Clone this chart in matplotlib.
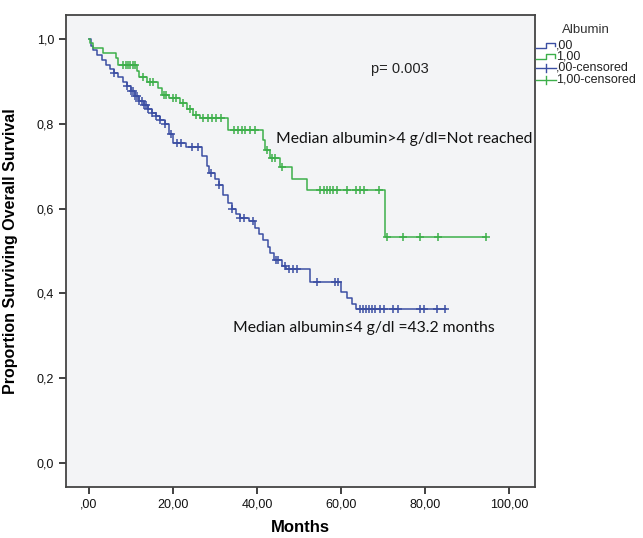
import numpy as np
import matplotlib.pyplot as plt
from matplotlib.lines import Line2D

# Kaplan-Meier steps (months, survival after the drop)
blue_t = [0, 0.5, 1, 2, 3, 4, 5, 6, 7, 8, 9, 10, 11, 12, 13, 14, 15, 16, 17, 18,
          19, 20, 23, 27, 28, 28.5, 30, 31, 32, 33, 34, 35, 36, 38, 39.5, 40.5,
          41.5, 42.5, 43.2, 44, 46, 47, 52.5, 60, 61.5, 62.5, 63.5]
blue_s = [1.0, 0.985, 0.975, 0.962, 0.95, 0.94, 0.93, 0.92, 0.91, 0.90, 0.89,
          0.877, 0.866, 0.855, 0.845, 0.835, 0.826, 0.818, 0.81, 0.80, 0.775,
          0.755, 0.745, 0.725, 0.70, 0.685, 0.67, 0.655, 0.632, 0.613, 0.60,
          0.588, 0.578, 0.57, 0.555, 0.54, 0.525, 0.51, 0.495, 0.478, 0.465,
          0.457, 0.428, 0.403, 0.39, 0.376, 0.363]
blue_end = 85
blue_cens = [6, 9, 10, 10.5, 11, 11.5, 12, 12.5, 13, 13.5, 14, 15, 16, 17, 18,
             19.5, 21, 22, 24.5, 26, 29, 31, 34, 36, 37, 39, 44.5, 45,
             46.7, 47.6, 48.6, 49.5, 54.3, 58.6, 59.3, 64.5, 65.2, 65.9, 66.7,
             67.4, 68.1, 69.3, 70.2, 72.4, 73.6, 78.8, 79.8, 82.9, 84.8]

green_t = [0, 0.3, 1, 3.3, 6.5, 7, 11.5, 12, 13.8, 16.4, 17.4, 19, 21.7, 23.3,
           24.8, 26.5, 33, 41.4, 42, 43, 45.5, 48.3, 52, 70.5]
green_s = [1.0, 0.99, 0.98, 0.967, 0.955, 0.94, 0.925, 0.91, 0.90, 0.885, 0.868,
           0.862, 0.85, 0.835, 0.822, 0.814, 0.785, 0.762, 0.738, 0.72, 0.698,
           0.67, 0.644, 0.533]
green_end = 94.3
green_cens = [8, 8.7, 9.3, 9.8, 10.4, 11, 12.8, 14.5, 15.2, 17.8, 18.3, 20, 20.6,
              22.3, 24, 25.5, 27.2, 28.3, 29.3, 30.3, 31.3, 34.5, 35.5, 36.3,
              37.2, 38.3, 39.5, 42.4, 43.5, 44.2, 46, 55, 56, 56.7, 57.3, 58,
              59, 61.5, 63.5, 64.5, 65.5, 69, 71, 74.8, 78.8, 83, 94.5]

blue = '#3c4fa3'
green = '#3daf4a'


def surv_at(times, surv, c):
    idx = np.searchsorted(times, c, side='right') - 1
    return np.array(surv)[idx]


fig = plt.figure(figsize=(6.43, 5.38), dpi=100)
ax = fig.add_axes([66 / 643, 1 - 487 / 538, 469 / 643, 472 / 538])
ax.set_facecolor('#f3f4f6')

for t, s, end, cens, col in [(blue_t, blue_s, blue_end, blue_cens, blue),
                             (green_t, green_s, green_end, green_cens, green)]:
    ax.step(t + [end], s + [s[-1]], where='post', color=col, lw=1.1)
    ax.plot(cens, surv_at(t, s, cens), ls='none', marker='+', ms=6, mew=1.1,
            color=col)

ax.set_xlim(-5.5, 106.2)
ax.set_ylim(-0.057, 1.057)
ax.set_xticks([0, 20, 40, 60, 80, 100])
ax.set_xticklabels([',00', '20,00', '40,00', '60,00', '80,00', '100,00'])
ax.set_yticks([0, 0.2, 0.4, 0.6, 0.8, 1.0])
ax.set_yticklabels(['0,0', '0,2', '0,4', '0,6', '0,8', '1,0'])
ax.tick_params(direction='out', length=5, width=1.3, color='#333333',
               labelsize=9, labelcolor='#111111')
for sp in ax.spines.values():
    sp.set_color('#444444')
    sp.set_linewidth(1.3)
for lab in ax.get_xticklabels() + ax.get_yticklabels():
    lab.set_family('Liberation Sans')

ax.set_xlabel('Months', family='Liberation Sans', fontweight='bold',
              fontsize=12)
ax.set_ylabel('Proportion Surviving Overall Survival', family='Liberation Sans',
              fontweight='bold', fontsize=11.5)
ax.xaxis.set_label_coords(0.5, -0.07)
ax.yaxis.set_label_coords(-0.102, 0.5)

ax.text(74, 0.93, 'p= 0.003', family='Liberation Sans', fontsize=10.5,
        va='center', ha='center', color='#222222')
ax.text(44.5, 0.764, 'Median albumin>4 g/dl=Not reached', family='Lato',
        fontsize=11.3, va='center', ha='left', color='#111111')
ax.text(34.3, 0.318, 'Median albumin\u22644 g/dl =43.2 months', family='Lato',
        fontsize=11.3, va='center', ha='left', color='#111111')

# legend drawn outside the plot frame, SPSS style
def px(x, y):
    return x / 643, 1 - y / 538

fig.text(*px(586, 30), 'Albumin', family='Liberation Sans', fontsize=9.5,
         ha='center', va='center', color='#333333')
labels = [',00', '1,00', ',00-censored', '1,00-censored']
cols = [blue, green, blue, green]
for i, (lab, col) in enumerate(zip(labels, cols)):
    y = 45 + i * 11.5
    if i < 2:
        xs = [536, 546, 546, 555, 555]
        ys = [y + 3, y + 3, y - 2.5, y - 2.5, y + 1]
        fig.add_artist(Line2D([px(a, b)[0] for a, b in zip(xs, ys)],
                              [px(a, b)[1] for a, b in zip(xs, ys)],
                              color=col, lw=1, transform=fig.transFigure))
    else:
        fig.add_artist(Line2D([px(536, y)[0], px(556, y)[0]],
                              [px(536, y)[1], px(556, y)[1]],
                              color=col, lw=1, transform=fig.transFigure))
        fig.add_artist(Line2D([px(546, y - 4)[0], px(546, y + 4)[0]],
                              [px(546, y - 4)[1], px(546, y + 4)[1]],
                              color=col, lw=1, transform=fig.transFigure))
    fig.text(*px(556, y), lab, family='Liberation Sans', fontsize=9,
             ha='left', va='center', color='#222222')

fig.savefig('out.png', dpi=100)
